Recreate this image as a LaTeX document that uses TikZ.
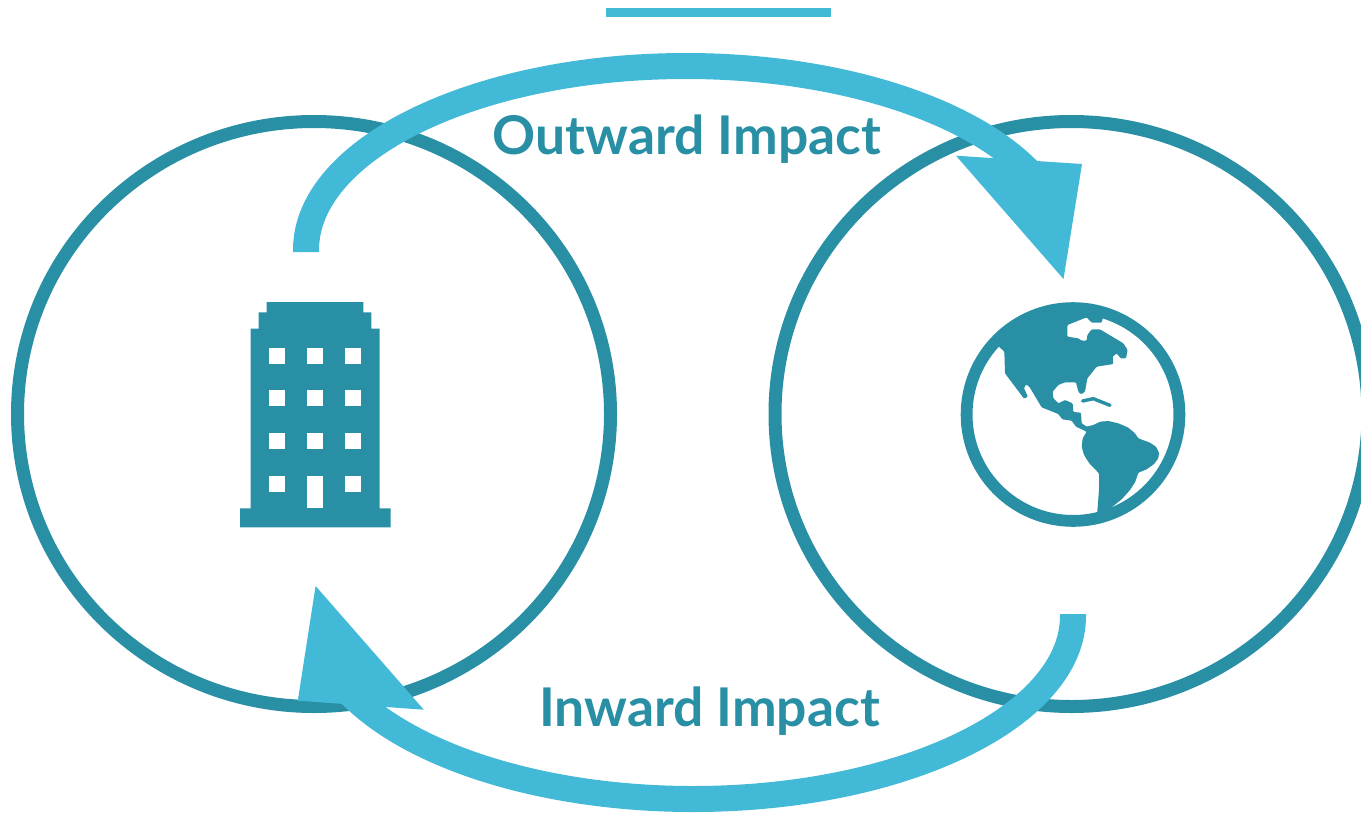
\documentclass[tikz,border=0pt]{standalone}
\usepackage{fontspec}
\setmainfont{Lato}[BoldFont={Lato Bold}]
\usetikzlibrary{shapes.geometric}
\definecolor{teal}{HTML}{288FA5}
\definecolor{sky}{HTML}{43B9D8}
\tikzset{
  ring/.style={draw=teal,line width=13pt,ellipse,minimum width=593pt,minimum height=585pt,inner sep=0pt,outer sep=0pt},
  shaft/.style={draw=sky,line width=26pt,line cap=butt},
  head/.style={fill=sky},
  label/.style={text=teal,anchor=base,inner sep=0pt,font=\fontsize{53.4}{54}\selectfont\bfseries},
  icon/.style={fill=teal},
  pane/.style={fill=white}
}
\begin{document}
\begin{tikzpicture}[x=1pt,y=-1pt]
\clip (0,0) rectangle (1361,812);
\fill[white] (0,0) rectangle (1361,812);
% rings
\node[ring] (company) at (314,414) {};
\node[ring] (world) at (1071.5,414) {};
% top bar
\fill[sky] (606,8) rectangle (831,17);
% building
\fill[icon] (266.7,302) -| (363.3,312.3) -| (371.3,328.7) -| (379.7,508.3) -| (390.7,527.3) -| (240,508.3) -| (250.7,328.7) -| (258.7,312.3) -| cycle;
\foreach \cx in {269.3,307.3,345}{
  \foreach \cy in {347.7,390.3,433.3}{
    \fill[pane] (\cx,\cy) rectangle ++(16,16);
  }
}
\fill[pane] (269.3,476.3) rectangle ++(16,16);
\fill[pane] (345,476.3) rectangle ++(16,16);
\fill[pane] (307.3,476.3) rectangle (323.3,508.3);
% globe
\coordinate (gc) at (1073,414.5);
\draw[teal,line width=11.8pt] (gc) circle[radius=106.4];
\begin{scope}[xshift=950pt,yshift=-290pt,x=0.33333pt,y=-0.33333pt]
\fill[icon,rounded corners=1pt]
 (147,170) -- (163,185) -- (165,250) -- (222,326) -- (234,320) -- (222,295) -- (228,283) -- (238,290)
 -- (275,352) -- (325,372) -- (337,388) -- (365,392) -- (378,410) -- (410,425) -- (398,445) -- (395,470) -- (402,495)
 -- (418,520) -- (447,550) -- (447,600) -- (442,663) -- (442,680) -- (490,670) -- (485,652)
 -- (515,628) -- (540,600) -- (556,575) -- (565,548) -- (590,538) -- (612,522) -- (625,505) -- (627,488)
 -- (618,470) -- (600,458) -- (565,445) -- (555,430) -- (535,413)
 -- (505,400) -- (475,393) -- (450,395) -- (430,405) -- (410,410) -- (395,400) -- (393,368) -- (370,366) -- (368,340)
 -- (345,330) -- (325,340) -- (310,325) -- (308,305) -- (325,285) -- (345,277) -- (378,277) -- (385,305)
 -- (393,313) -- (405,305) -- (412,265) -- (440,230) -- (490,222) -- (488,200) -- (500,190) -- (512,205)
 -- (528,205) -- (533,180) -- (520,160) -- (450,118) -- (425,118) -- (412,135) -- (410,152) -- (395,152)
 -- (385,145) -- (352,140) -- (352,105) -- (410,82) -- (425,98) -- (455,98) -- (458,87)
 -- (458,70) -- (369,55) -- (260,75) -- (180,115) -- (130,165) -- cycle;
\draw[teal,line width=3.4pt,line cap=round,line join=round] (398,333) -- (430,326) -- (480,346);
\end{scope}
% outward arrow
\coordinate (outStart) at (306,252);
\coordinate (outLead) at (306,250);
\coordinate (outMid) at (686,66);
\coordinate (outEnd) at (1030.4,172.8);
\draw[shaft] (outStart) -- (outLead) .. controls (306,148.8) and (476.1,66) .. (outMid)
  .. controls (833.7,66) and (968,107.6) .. (outEnd);
\coordinate (outA) at (956,155.7);
\coordinate (outB) at (1082,164);
\coordinate (outTip) at (1063.5,279);
\fill[head] (outA) -- (outB) -- (outTip) -- cycle;
% inward arrow
\coordinate (inStart) at (1073,614);
\coordinate (inLead) at (1073,616);
\coordinate (inMid) at (693,799);
\coordinate (inEnd) at (348.6,692.2);
\draw[shaft] (inStart) -- (inLead) .. controls (1073,716.2) and (902.9,799) .. (inMid)
  .. controls (545.3,799) and (411,757.4) .. (inEnd);
\coordinate (inA) at (423.8,709.7);
\coordinate (inB) at (297.8,700.7);
\coordinate (inTip) at (315.6,586);
\fill[head] (inA) -- (inB) -- (inTip) -- cycle;
% labels
\node[label] (outward) at (687,154.5) {Outward Impact};
\node[label] (inward) at (709.5,726) {Inward Impact};
\end{tikzpicture}
\end{document}
